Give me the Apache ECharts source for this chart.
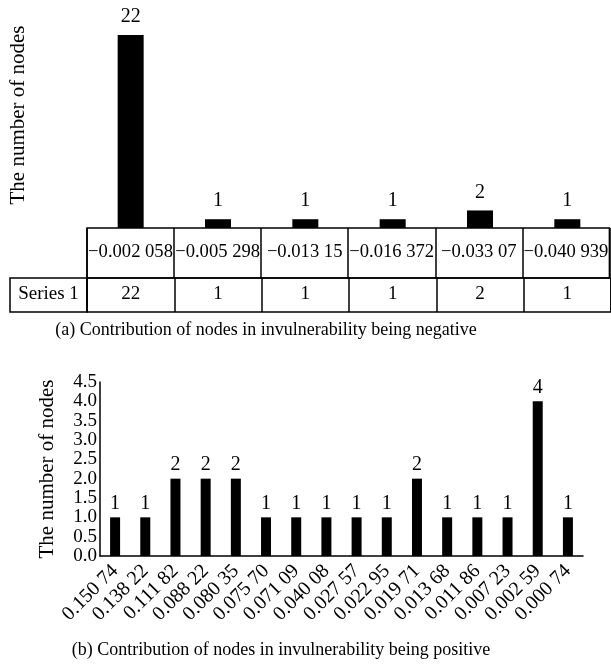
<!DOCTYPE html>
<html><head><meta charset="utf-8">
<script src="https://cdn.jsdelivr.net/npm/echarts@6/dist/echarts.min.js"></script>
<style>html,body{margin:0;padding:0;background:#fff}#c{width:611px;height:669px}</style>
</head><body><div id="c"></div>
<script>
const negCategories = ['\u22120.002 058', '\u22120.005 298', '\u22120.013 15', '\u22120.016 372', '\u22120.033 07', '\u22120.040 939'];
const negCounts = [22, 1, 1, 1, 2, 1];
const seriesName = 'Series 1';
const posCategories = ['0.150 74', '0.138 22', '0.111 82', '0.088 22', '0.080 35', '0.075 70', '0.071 09', '0.040 08', '0.027 57', '0.022 95', '0.019 71', '0.013 68', '0.011 86', '0.007 23', '0.002 59', '0.000 74'];
const posCounts = [1, 1, 2, 2, 2, 1, 1, 1, 1, 1, 2, 1, 1, 1, 4, 1];
const posYMax = 4.5;
const posYStep = 0.5;
const yAxisTitle = 'The number of nodes';
const captionA = '(a) Contribution of nodes in invulnerability being negative';
const captionB = '(b) Contribution of nodes in invulnerability being positive';

const FONT = "'Liberation Serif', 'Times New Roman', serif";
const INK = '#000';
const chart = echarts.init(document.getElementById('c'), null, {renderer: 'canvas'});
const cellSplit = {show: true, interval: 0, lineStyle: {color: INK, width: 1.5}};
const txt = (size) => ({color: INK, fontFamily: FONT, fontSize: size});

chart.setOption({
  animation: false,
  backgroundColor: '#fff',
  grid: [
    {left: 87, top: 35, width: 526, height: 193},
    {left: 87, top: 228, width: 526, height: 50, show: true, borderColor: INK, borderWidth: 1.5, backgroundColor: 'transparent'},
    {left: 87, top: 278, width: 526, height: 34, show: true, borderColor: INK, borderWidth: 1.5, backgroundColor: 'transparent'},
    {left: 10, top: 278, width: 77, height: 34, show: true, borderColor: INK, borderWidth: 1.5, backgroundColor: 'transparent'},
    {left: 100, top: 382, width: 483, height: 174}
  ],
  xAxis: [
    {gridIndex: 0, type: 'category', data: negCategories, show: false},
    {gridIndex: 1, type: 'category', data: negCategories, axisLine: {show: false}, axisTick: {show: false},
     splitLine: cellSplit, axisLabel: Object.assign({interval: 0, margin: -35}, txt(18.6))},
    {gridIndex: 2, type: 'category', data: negCategories, axisLine: {show: false}, axisTick: {show: false},
     splitLine: cellSplit, axisLabel: Object.assign({interval: 0, margin: -27, formatter: (v, i) => String(negCounts[i])}, txt(19))},
    {gridIndex: 3, type: 'category', data: [seriesName], axisLine: {show: false}, axisTick: {show: false},
     axisLabel: Object.assign({interval: 0, margin: -27}, txt(19))},
    {gridIndex: 4, type: 'category', data: posCategories, axisLine: {show: true, lineStyle: {color: INK, width: 1.5}},
     axisTick: {show: false}, axisLabel: Object.assign({interval: 0, rotate: 45, margin: 12}, txt(20))}
  ],
  yAxis: [
    {gridIndex: 0, type: 'value', min: 0, max: 22, show: false},
    {gridIndex: 1, type: 'value', show: false},
    {gridIndex: 2, type: 'value', show: false},
    {gridIndex: 3, type: 'value', show: false},
    {gridIndex: 4, type: 'value', min: 0, max: posYMax, interval: posYStep,
     axisLine: {show: true, lineStyle: {color: INK, width: 1.5}}, axisTick: {show: false}, splitLine: {show: false},
     axisLabel: Object.assign({margin: 3, showMinLabel: true, showMaxLabel: true, hideOverlap: false,
       formatter: v => v.toFixed(1)}, txt(19)),
     name: yAxisTitle, nameLocation: 'middle', nameGap: 42, nameTextStyle: txt(21)}
  ],
  series: [
    {type: 'bar', xAxisIndex: 0, yAxisIndex: 0, data: negCounts, barWidth: 26,
     itemStyle: {color: INK}, label: Object.assign({show: true, position: 'top', distance: 8}, txt(20))},
    {type: 'bar', xAxisIndex: 4, yAxisIndex: 4, data: posCounts, barWidth: 10,
     itemStyle: {color: INK}, label: Object.assign({show: true, position: 'top', distance: 4}, txt(20))}
  ],
  graphic: [
    {type: 'text', x: 18, y: 115, rotation: Math.PI / 2,
     style: {text: yAxisTitle, fill: INK, fontFamily: FONT, fontSize: 21, align: 'center', verticalAlign: 'middle'}},
    {type: 'text', x: 266, y: 330,
     style: {text: captionA, fill: INK, fontFamily: FONT, fontSize: 18, align: 'center', verticalAlign: 'middle'}},
    {type: 'text', x: 281, y: 650,
     style: {text: captionB, fill: INK, fontFamily: FONT, fontSize: 18, align: 'center', verticalAlign: 'middle'}}
  ]
});
</script></body></html>
